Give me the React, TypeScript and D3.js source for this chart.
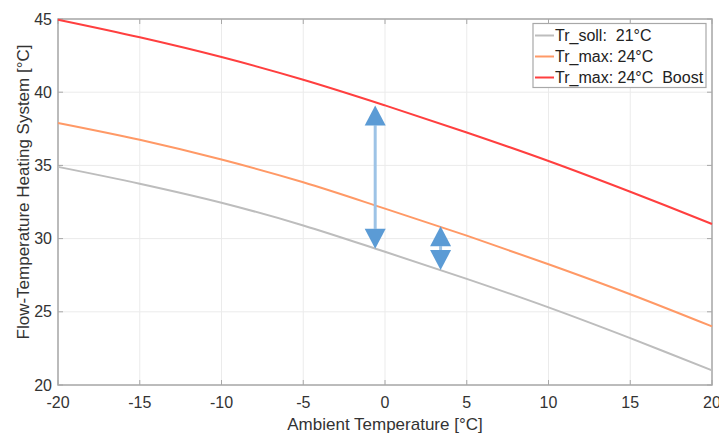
import React from 'react';
import * as d3 from 'd3';

const ambient = [-20, -15, -10, -5, 0, 5, 10, 15, 20];
const trSoll = [34.9, 33.75, 32.45, 30.9, 29.1, 27.25, 25.3, 23.2, 21.0];
const trMax = [37.9, 36.75, 35.4, 33.85, 32.05, 30.2, 28.25, 26.2, 24.0];
const trBoost = [44.95, 43.75, 42.4, 40.85, 39.1, 37.25, 35.3, 33.2, 31.0];
const seriesNames = ['Tr_soll:  21°C', 'Tr_max: 24°C', 'Tr_max: 24°C  Boost'];
const seriesColors = ['#bdbdbd', '#ff9966', '#ff3f3f'];
const xTicks = [-20, -15, -10, -5, 0, 5, 10, 15, 20];
const yTicks = [20, 25, 30, 35, 40, 45];
const arrowX = [-0.6, 3.4];
const arrowTop = [39.1, 30.85];
const arrowBottom = [29.3, 27.85];

const W = 719;
const H = 434;
const L = 58, R = 712, T = 19, B = 385;

export default function App() {
  const xs = d3.scaleLinear().domain([-20, 20]).range([L, R]);
  const ys = d3.scaleLinear().domain([20, 45]).range([B, T]);
  const series = [trSoll, trMax, trBoost];
  const line = d3
    .line<number>()
    .x((_, i) => xs(ambient[i]))
    .y((d) => ys(d))
    .curve(d3.curveCatmullRom);
  const font = '"Liberation Sans", Arial, sans-serif';
  const axisColor = '#a8a8a8';
  const head = 20;
  const hw = 10.5;

  return (
    <svg width={W} height={H} style={{ position: 'absolute', left: 0, top: 0, background: '#fff' }} fontFamily={font}>
      <rect x={0} y={0} width={W} height={H} fill="#fff" />
      {/* grid */}
      {xTicks.map((t) => (
        <line key={'gx' + t} x1={xs(t)} x2={xs(t)} y1={T} y2={B} stroke="#ebebeb" strokeWidth={1} />
      ))}
      {yTicks.map((t) => (
        <line key={'gy' + t} x1={L} x2={R} y1={ys(t)} y2={ys(t)} stroke="#ebebeb" strokeWidth={1} />
      ))}
      {/* frame */}
      <rect x={L} y={T} width={R - L} height={B - T} fill="none" stroke={axisColor} strokeWidth={1.5} />
      {xTicks.map((t) => (
        <g key={'tx' + t}>
          <line x1={xs(t)} x2={xs(t)} y1={B} y2={B - 5} stroke={axisColor} strokeWidth={1} />
          <line x1={xs(t)} x2={xs(t)} y1={T} y2={T + 5} stroke={axisColor} strokeWidth={1} />
          <text x={xs(t)} y={402} textAnchor="middle" dominantBaseline="central" fontSize={16} fill="#333">
            {t}
          </text>
        </g>
      ))}
      {yTicks.map((t) => (
        <g key={'ty' + t}>
          <line x1={L} x2={L + 5} y1={ys(t)} y2={ys(t)} stroke={axisColor} strokeWidth={1} />
          <line x1={R} x2={R - 5} y1={ys(t)} y2={ys(t)} stroke={axisColor} strokeWidth={1} />
          <text x={52} y={ys(t)} textAnchor="end" dominantBaseline="central" fontSize={16} fill="#333">
            {t}
          </text>
        </g>
      ))}
      {/* curves */}
      {series.map((s, i) => (
        <path key={'s' + i} d={line(s) || ''} fill="none" stroke={seriesColors[i]} strokeWidth={2} />
      ))}
      {/* arrows */}
      {arrowX.map((ax, i) => {
        const px = xs(ax);
        const yt = ys(arrowTop[i]);
        const yb = ys(arrowBottom[i]);
        return (
          <g key={'a' + i}>
            <line x1={px} x2={px} y1={yt + head} y2={yb - head} stroke="#9dc3e6" strokeWidth={3} />
            <path d={`M${px},${yt} L${px + hw},${yt + head} L${px - hw},${yt + head} Z`} fill="#5b9bd5" />
            <path d={`M${px},${yb} L${px + hw},${yb - head} L${px - hw},${yb - head} Z`} fill="#5b9bd5" />
          </g>
        );
      })}
      {/* legend */}
      <rect x={533} y={23.5} width={173} height={64} fill="#fff" stroke={axisColor} strokeWidth={1.2} />
      {seriesNames.map((n, i) => {
        const cy = 35.5 + i * 21;
        return (
          <g key={'l' + i}>
            <line x1={535} x2={554} y1={cy} y2={cy} stroke={seriesColors[i]} strokeWidth={2} />
            <text x={555} y={cy} dominantBaseline="central" fontSize={16} fill="#222" style={{ whiteSpace: 'pre' }}>
              {n}
            </text>
          </g>
        );
      })}
      {/* axis labels */}
      <text x={(L + R) / 2} y={430} textAnchor="middle" fontSize={17} fill="#333">
        Ambient Temperature [°C]
      </text>
      <text
        transform={`translate(29,${192}) rotate(-90)`}
        textAnchor="middle"
        fontSize={17}
        fill="#333"
      >
        Flow-Temperature Heating System [°C]
      </text>
    </svg>
  );
}
